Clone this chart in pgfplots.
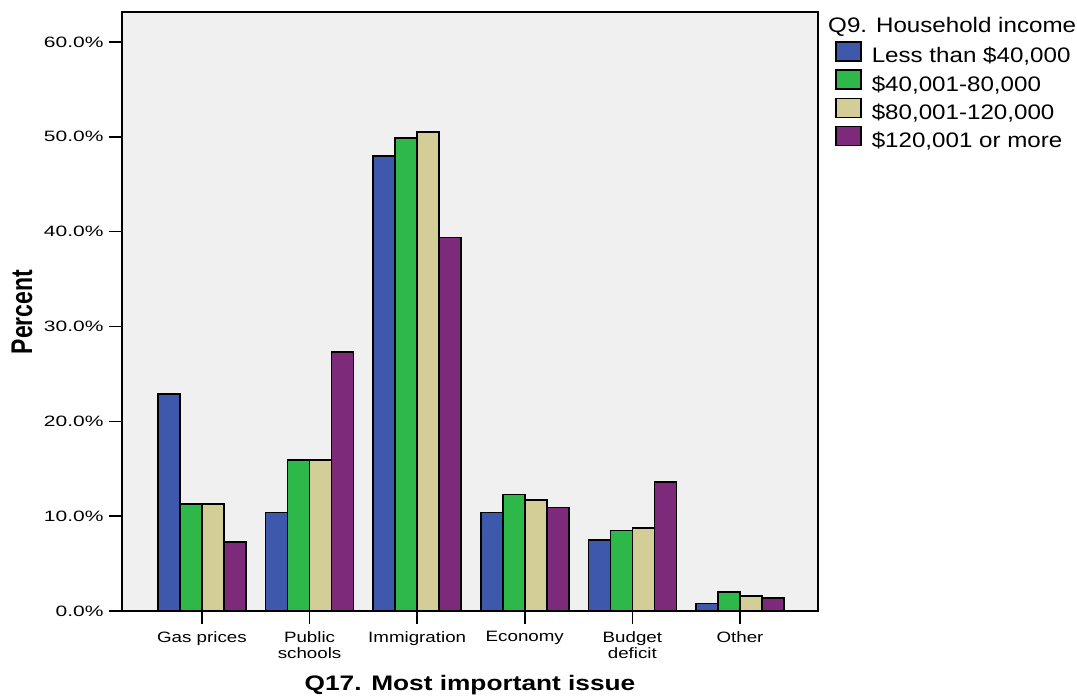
\documentclass[border=0pt]{standalone}
\usepackage{pgfplots}
\pgfplotsset{compat=1.18}
\usepackage{fontspec}
\setmainfont{Liberation Sans}
\newfontfamily\tickf{Liberation Sans}[FakeStretch=1.4]
\newfontfamily\xtickf{Liberation Sans}[FakeStretch=1.25]
\newfontfamily\legf{Liberation Sans}[FakeStretch=1.15]
\newfontfamily\xlabf{Liberation Sans}[FakeStretch=1.25]
\definecolor{cblue}{HTML}{3E58AC}
\definecolor{cgreen}{HTML}{2EB84A}
\definecolor{ctan}{HTML}{D3CE98}
\definecolor{cpurple}{HTML}{7D2A7B}
\definecolor{bg}{HTML}{F0F0F0}
\begin{document}
\begin{tikzpicture}
\useasboundingbox (-122pt,-85pt) rectangle (955pt,611pt);
\begin{axis}[
  width=696pt, height=599pt, scale only axis,
  xmin=-0.743, xmax=5.725, ymin=0, ymax=63.16,
  ybar=0pt, bar width=22pt,
  axis background/.style={fill=bg},
  axis line style={line width=1.6pt, black},
  xtick={0,1,2,3,4,5},
  xticklabels={Gas prices,{Public\\schools},Immigration,Economy,{Budget\\deficit},Other},
  ytick={0,10,20,30,40,50,60},
  yticklabels={0.0\%,10.0\%,20.0\%,30.0\%,40.0\%,50.0\%,60.0\%},
  tick align=outside, major tick length=13pt,
  tick style={line width=1.6pt, black},
  xtick pos=lower, ytick pos=left,
  xticklabel style={font=\xtickf\fontsize{15}{16}\selectfont, align=center, yshift=-4pt},
  yticklabel style={font=\tickf\fontsize{15}{17}\selectfont, xshift=-2pt},
  xlabel={Q17. Most important issue},
  xlabel style={at={(axis description cs:0.5,-0.1319)}, anchor=base, font=\xlabf\bfseries\fontsize{21}{24}\selectfont},
  ylabel={\scalebox{1.3}[1]{\rotatebox{90}{\bfseries\fontsize{23}{26}\selectfont Percent}}},
  ylabel style={rotate=-90, at={(axis description cs:-0.1437,0.499)}, anchor=center},
  clip=false,
  legend style={draw=none, fill=none, at={(rel axis cs:1.0244,0.952)}, anchor=north west,
    inner sep=0pt, column sep=10pt, row sep=1.5pt,
    font=\legf\fontsize{21}{25}\selectfont,
    nodes={inner sep=0pt, text height=15pt, text depth=5pt}},
  legend cell align=left,
  legend image code/.code={\draw[#1, line width=1.6pt] (0pt,-3pt) rectangle (25pt,16pt);},
]
\addplot[fill=cblue, draw=black, line width=1.6pt] coordinates {(0,22.9) (1,10.4) (2,48.0) (3,10.4) (4,7.5) (5,0.8)};
\addplot[fill=cgreen, draw=black, line width=1.6pt] coordinates {(0,11.3) (1,15.9) (2,49.9) (3,12.3) (4,8.5) (5,2.0)};
\addplot[fill=ctan, draw=black, line width=1.6pt] coordinates {(0,11.3) (1,15.9) (2,50.5) (3,11.7) (4,8.75) (5,1.6)};
\addplot[fill=cpurple, draw=black, line width=1.6pt] coordinates {(0,7.3) (1,27.3) (2,39.4) (3,10.9) (4,13.6) (5,1.4)};
\legend{Less than \$40{,}000,\$40{,}001-80{,}000,\$80{,}001-120{,}000,\$120{,}001 or more}
\node[anchor=base west, font=\legf\fontsize{21}{25}\selectfont, inner sep=0pt] at (rel axis cs:1.0144,0.965) {Q9. Household income};
\end{axis}
\end{tikzpicture}
\end{document}
